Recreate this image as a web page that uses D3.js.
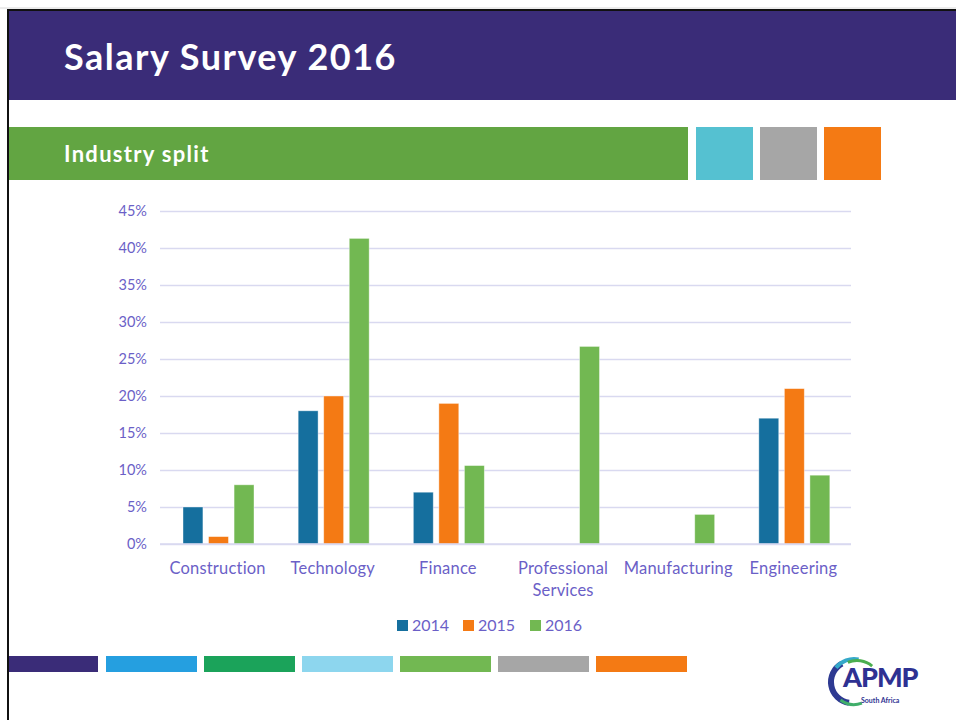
<!DOCTYPE html>
<meta charset="utf-8">
<style>
body { margin: 0; background: #fff; }
text { font-family: Lato, "Open Sans", sans-serif; }
.tick text { fill: #6B5FC7; font-size: 14.5px; }
.cat { fill: #6B5FC7; font-size: 16.5px; text-anchor: middle; letter-spacing: 0.2px; }
.legend text { fill: #6B5FC7; font-size: 16px; }
</style>
<svg width="956" height="720"></svg>
<script src="https://d3js.org/d3.v7.min.js"></script>
<script>

var industries = ["Construction", "Technology", "Finance", "Professional Services", "Manufacturing", "Engineering"];
var years = ["2014", "2015", "2016"];
var values2014 = [5, 18, 7, 0, 0, 17];
var values2015 = [1, 20, 19, 0, 0, 21];
var values2016 = [8, 41.3, 10.6, 26.7, 4.0, 9.3];
var yTicks = [0, 5, 10, 15, 20, 25, 30, 35, 40, 45];
var stripColors = ["#3A2C78", "#259FE0", "#1BA35A", "#8DD6EE", "#72B852", "#A6A6A6", "#F47A14"];

var yearColor = d3.scaleOrdinal().domain(years).range(["#156F9E", "#F47A14", "#72B852"]);

var svg = d3.select("svg");

// slide frame and header
svg.append("line").attr("x1", 0).attr("x2", 956).attr("y1", 8).attr("y2", 8)
    .attr("stroke", "#d8d8d8");
svg.append("rect").attr("x", 7).attr("y", 9).attr("width", 949).attr("height", 2).attr("fill", "#111");
svg.append("rect").attr("x", 7).attr("y", 9).attr("width", 2).attr("height", 711).attr("fill", "#111");
svg.append("rect").attr("x", 9).attr("y", 11).attr("width", 947).attr("height", 89).attr("fill", "#3A2C78");
svg.append("text").attr("x", 64).attr("y", 70)
    .attr("fill", "#fff").style("font-size", "36px").style("font-weight", "bold")
    .style("letter-spacing", "1.5px")
    .text("Salary Survey 2016");

svg.append("rect").attr("x", 9).attr("y", 127).attr("width", 679).attr("height", 53).attr("fill", "#62A542");
svg.append("text").attr("x", 64).attr("y", 162)
    .attr("fill", "#fff").style("font-size", "22px").style("font-weight", "bold")
    .style("letter-spacing", "1.3px")
    .text("Industry split");
svg.selectAll(".sq")
    .data(["#55C1D1", "#A6A6A6", "#F47A14"])
  .enter().append("rect")
    .attr("x", function(d, i) { return 696 + i * 64; })
    .attr("y", 127).attr("width", 57).attr("height", 53)
    .attr("fill", function(d) { return d; });

// chart
var x0 = d3.scaleBand().domain(industries).range([160, 851]).paddingInner(0).paddingOuter(0);
var x1 = d3.scaleBand().domain(years).range([23, 94]).paddingInner(0.22);
var y = d3.scaleLinear().domain([0, 45]).range([544, 211]);

var yAxis = svg.append("g")
    .attr("transform", "translate(160,0)")
    .call(d3.axisLeft(y).tickValues(yTicks).tickSize(-691).tickPadding(13)
      .tickFormat(function(d) { return d + "%"; }));
yAxis.select(".domain").remove();
yAxis.selectAll(".tick line").attr("stroke", "#D9D9F0").attr("stroke-width", 1.3);

var series = [values2014, values2015, values2016];
var rows = industries.map(function(name, i) {
  return { name: name, vals: years.map(function(yr, j) { return { year: yr, v: series[j][i] }; }) };
});

var groups = svg.selectAll(".grp")
    .data(rows)
  .enter().append("g")
    .attr("transform", function(d) { return "translate(" + x0(d.name) + ",0)"; });

groups.selectAll("rect")
    .data(function(d) { return d.vals.filter(function(e) { return e.v > 0; }); })
  .enter().append("rect")
    .attr("x", function(d) { return x1(d.year); })
    .attr("width", x1.bandwidth())
    .attr("y", function(d) { return y(d.v); })
    .attr("height", function(d) { return y(0) - y(d.v); })
    .attr("fill", function(d) { return yearColor(d.year); })
    .attr("stroke", "#fff").attr("stroke-opacity", 0.5).attr("stroke-width", 0.8);

svg.append("line").attr("x1", 160).attr("x2", 851).attr("y1", y(0)).attr("y2", y(0))
    .attr("stroke", "#D9D9F0").attr("stroke-width", 1.3);

// category labels
svg.selectAll(".cat")
    .data(industries)
  .enter().append("text")
    .attr("class", "cat")
    .attr("x", function(d) { return x0(d) + x0.bandwidth() / 2; })
    .attr("y", 574)
    .each(function(d) {
      var words = d.split(" ");
      var t = d3.select(this);
      words.forEach(function(w, i) {
        t.append("tspan").attr("x", t.attr("x")).attr("dy", i ? 22 : 0).text(w);
      });
    });

// legend
var legend = svg.append("g").attr("class", "legend");
var lx = [397, 463, 530];
years.forEach(function(yr, i) {
  legend.append("rect").attr("x", lx[i]).attr("y", 620).attr("width", 11).attr("height", 11)
      .attr("fill", yearColor(yr));
  legend.append("text").attr("x", lx[i] + 15).attr("y", 631).text(yr);
});

// bottom colour strips
svg.selectAll(".strip")
    .data(stripColors)
  .enter().append("rect")
    .attr("x", function(d, i) { return i === 0 ? 9 : 8 + i * 98; })
    .attr("y", 656)
    .attr("width", function(d, i) { return i === 0 ? 89 : 91; })
    .attr("height", 16)
    .attr("fill", function(d) { return d; });

// logo
var logo = svg.append("g").attr("transform", "translate(826,655)");
var arc = d3.arc();
logo.append("path")
    .attr("transform", "translate(26,27)")
    .attr("d", arc({ innerRadius: 18, outerRadius: 24, startAngle: -3.0, endAngle: -0.5 }))
    .attr("fill", "#2E3A92");
logo.append("path")
    .attr("transform", "translate(28,27)")
    .attr("d", arc({ innerRadius: 21, outerRadius: 25, startAngle: -0.9, endAngle: 0.2 }))
    .attr("fill", "#35A9C9");
logo.append("path")
    .attr("transform", "translate(31,29)")
    .attr("d", arc({ innerRadius: 22, outerRadius: 25, startAngle: -0.4, endAngle: 0.7 }))
    .attr("fill", "#4BAE4F");
logo.append("path")
    .attr("transform", "translate(28,27)")
    .attr("d", arc({ innerRadius: 21, outerRadius: 24, startAngle: -3.5, endAngle: -2.5 }))
    .attr("fill", "#3FAE6A");
logo.append("text").attr("x", 17).attr("y", 32)
    .attr("fill", "#2E3192").style("font-size", "27px").style("font-weight", "900")
    .style("letter-spacing", "-1px").text("APMP");
logo.append("text").attr("x", 35).attr("y", 48)
    .attr("fill", "#2E3192").style("font-size", "7px").style("font-weight", "bold")
    .text("South Africa");

</script>
